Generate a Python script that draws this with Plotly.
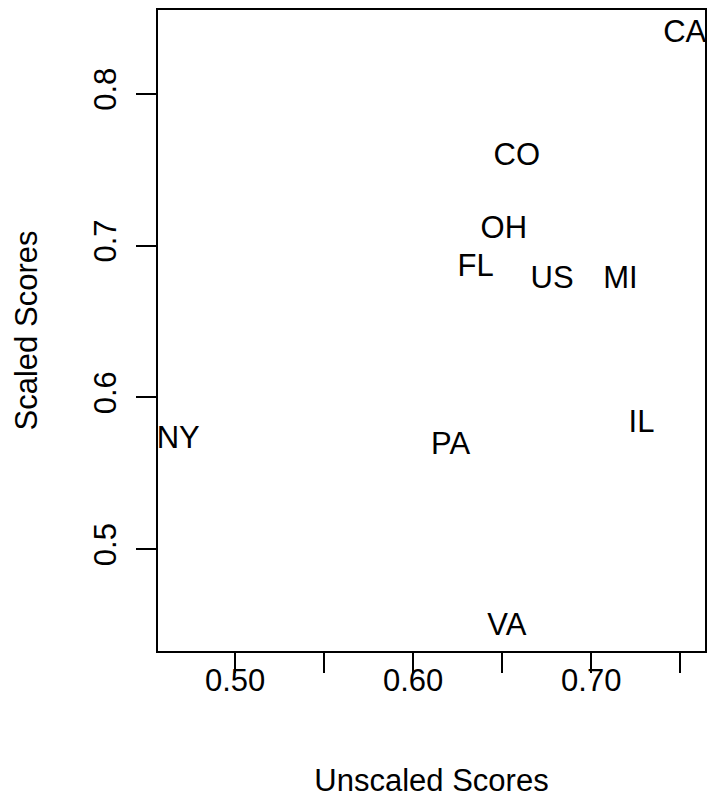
import plotly.graph_objects as go

states = ["CA", "CO", "OH", "FL", "US", "MI", "IL", "NY", "PA", "VA"]
unscaled = [0.7525, 0.6582, 0.6509, 0.6351, 0.6780, 0.7164, 0.7282, 0.4681, 0.6210, 0.6526]
scaled = [0.8396, 0.7585, 0.7104, 0.6853, 0.6774, 0.6774, 0.5825, 0.5719, 0.5680, 0.4486]

x_tickvals = [0.50, 0.55, 0.60, 0.65, 0.70, 0.75]
x_ticktext = ["0.50", "", "0.60", "", "0.70", ""]
y_tickvals = [0.5, 0.6, 0.7, 0.8]
y_ticktext = ["0.5", "0.6", "0.7", "0.8"]

FONT = "Liberation Sans, Arial, Helvetica, sans-serif"
FS = 31

def pad_range(v):
    lo, hi = min(v), max(v)
    d = (hi - lo) * 0.04
    return [lo - d, hi + d]

fig = go.Figure()
fig.add_trace(go.Scatter(
    x=unscaled, y=scaled, text=states, mode="text",
    textposition="middle center",
    textfont=dict(family=FONT, size=FS, color="black"),
    hoverinfo="skip", showlegend=False, cliponaxis=False,
))

axis_common = dict(
    showgrid=False, zeroline=False, showline=True, mirror=True,
    linecolor="black", linewidth=1.5, ticks="outside", ticklen=20,
    tickwidth=1.5, tickcolor="black",
    tickfont=dict(family=FONT, size=FS, color="black"),
)

fig.update_layout(
    width=710, height=792,
    margin=dict(l=150, r=13, t=0, b=149),
    paper_bgcolor="white", plot_bgcolor="white",
    font=dict(family=FONT, size=FS, color="black"),
    xaxis=dict(range=pad_range(unscaled), tickmode="array",
               tickvals=x_tickvals, ticktext=x_ticktext,
               ticklabelstandoff=-19,
               title=dict(text="Unscaled Scores", standoff=72,
                          font=dict(family=FONT, size=FS, color="black")),
               **axis_common),
    yaxis=dict(range=pad_range(scaled), tickmode="array",
               tickvals=y_tickvals, ticktext=y_ticktext, tickangle=-90,
               ticklabelstandoff=8,
               title=dict(text="Scaled Scores", standoff=41,
                          font=dict(family=FONT, size=FS, color="black")),
               **axis_common),
)

fig.write_html("out.html")
